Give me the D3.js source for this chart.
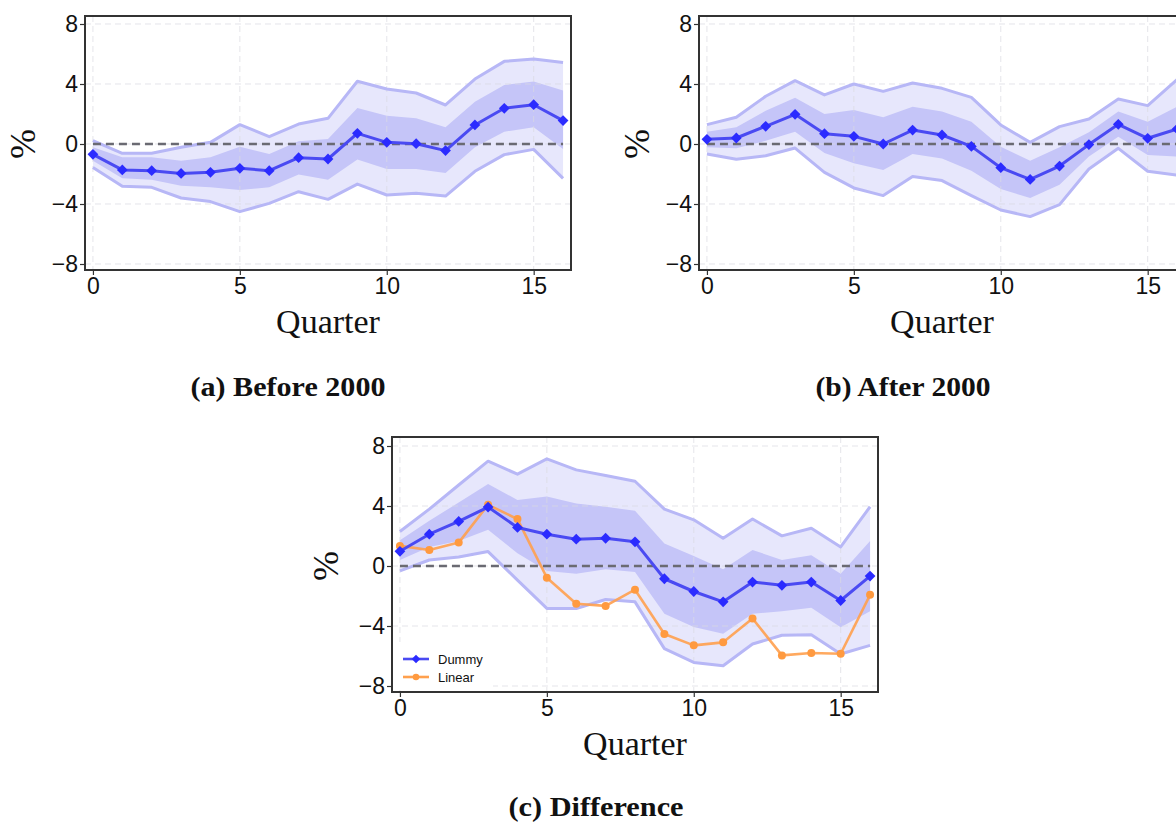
<!DOCTYPE html>
<html>
<head>
<meta charset="utf-8">
<script src="https://cdn.jsdelivr.net/npm/d3@7"></script>
<style>
  html, body { margin: 0; padding: 0; background: #fff; }
  svg { display: block; overflow: hidden; }
</style>
</head>
<body>
<svg id="chart" width="1176" height="824"></svg>
<script>
// Horizon (quarters after the shock)
const quarters = [0, 1, 2, 3, 4, 5, 6, 7, 8, 9, 10, 11, 12, 13, 14, 15, 16];
const xTicks = [0, 5, 10, 15];
const yTicks = [-8, -4, 0, 4, 8];

// (a) Before 2000: point estimate, inner (68%) and outer (90%) bands
const beforeEst   = [-0.69, -1.73, -1.78, -1.96, -1.89, -1.62, -1.78, -0.91, -1.00, 0.71, 0.11, 0.02, -0.44, 1.27, 2.38, 2.62, 1.56];
const beforeInLo  = [-1.11, -2.29, -2.38, -2.78, -2.89, -3.07, -2.89, -2.04, -2.38, -1.04, -1.67, -1.67, -1.93, -0.22, 0.82, 1.11, -0.33];
const beforeInHi  = [-0.22, -0.89, -0.89, -1.11, -0.89, -0.18, -0.67, 0.18, 0.33, 2.40, 1.89, 1.71, 1.11, 2.82, 3.93, 4.16, 3.56];
const beforeOutLo = [-1.56, -2.82, -2.89, -3.60, -3.84, -4.51, -3.96, -3.18, -3.69, -2.67, -3.40, -3.29, -3.47, -1.82, -0.71, -0.36, -2.29];
const beforeOutHi = [0.22, -0.62, -0.62, -0.22, 0.11, 1.29, 0.49, 1.33, 1.71, 4.18, 3.67, 3.40, 2.60, 4.33, 5.51, 5.67, 5.44];

// (b) After 2000
const afterEst   = [0.31, 0.40, 1.18, 1.98, 0.69, 0.51, 0.00, 0.93, 0.60, -0.16, -1.58, -2.36, -1.47, -0.04, 1.31, 0.38, 1.00];
const afterInLo  = [-0.22, -0.29, 0.22, 0.82, -0.60, -1.29, -1.73, -0.67, -0.96, -1.78, -3.00, -3.60, -2.71, -0.84, 0.49, -0.73, -0.84];
const afterInHi  = [0.82, 1.11, 2.22, 3.09, 2.00, 2.27, 1.78, 2.49, 2.16, 1.49, -0.18, -1.11, -0.22, 0.78, 2.16, 1.49, 2.49];
const afterOutLo = [-0.67, -1.02, -0.78, -0.27, -1.89, -2.93, -3.44, -2.16, -2.44, -3.44, -4.40, -4.84, -4.04, -1.67, -0.29, -1.82, -2.07];
const afterOutHi = [1.29, 1.78, 3.18, 4.22, 3.27, 4.00, 3.51, 4.07, 3.71, 3.11, 1.27, 0.11, 1.16, 1.67, 3.00, 2.56, 4.30];

// (c) Difference: dummy specification with bands, and linear specification
const diffEst   = [0.98, 2.12, 2.97, 3.93, 2.57, 2.12, 1.79, 1.85, 1.61, -0.85, -1.70, -2.39, -1.07, -1.29, -1.07, -2.30, -0.67];
const diffInLo  = [0.40, 1.27, 1.67, 2.41, 0.85, -0.33, -0.51, -0.22, -0.40, -3.19, -4.06, -4.51, -3.19, -3.01, -2.79, -4.08, -3.01];
const diffInHi  = [1.72, 3.01, 4.24, 5.47, 4.40, 4.64, 4.17, 3.95, 3.68, 1.50, 0.67, -0.22, 1.07, 0.40, 0.71, -0.51, 1.67];
const diffOutLo = [-0.33, 0.40, 0.60, 0.96, -0.94, -2.83, -2.83, -2.23, -2.39, -5.51, -6.43, -6.65, -5.20, -4.62, -4.58, -5.87, -5.29];
const diffOutHi = [2.30, 3.79, 5.40, 6.99, 6.12, 7.14, 6.41, 6.03, 5.65, 3.79, 3.08, 1.85, 3.13, 2.01, 2.52, 1.27, 3.95];
const linearEst = [1.34, 1.07, 1.56, 4.08, 3.13, -0.78, -2.52, -2.66, -1.58, -4.53, -5.29, -5.09, -3.50, -5.96, -5.80, -5.85, -1.92];

const seriesNames = ["Dummy", "Linear"];
const captions = ["(a) Before 2000", "(b) After 2000", "(c) Difference"];

const C = {
  outerFill: "#e7e7fc",
  innerFill: "#c5c5f8",
  outerEdge: "#b7b7f6",
  line: "#4a4af2",
  marker: "#2b2bff",
  zero: "#6a6a72",
  grid: "rgba(218,218,225,0.7)",
  frame: "#333",
  orange: "#ffa04e",
  orangeMarker: "#ff9a40"
};

const svg = d3.select("#chart");
const sans = "'Liberation Sans', Arial, Helvetica, sans-serif";
const serif = "'Liberation Serif', 'Times New Roman', serif";

// square diamond marker (a square turned by 45 degrees)
const diamondPath = size => d3.symbol(d3.symbolSquare, size)();

function drawPanel(p) {
  const g = svg.append("g").attr("transform", `translate(${p.left},${p.top})`);
  const W = p.width, H = p.height;
  const x = d3.scaleLinear().domain([-0.27, 16.27]).range([0, W]);
  const y = d3.scaleLinear().domain(p.yDomain).range([H, 0]);

  const rows = quarters.map((q, i) => ({
    q, est: p.est[i], inLo: p.inLo[i], inHi: p.inHi[i], outLo: p.outLo[i], outHi: p.outHi[i],
    lin: p.linear ? p.linear[i] : null
  }));

  const clipId = "clip-" + p.id;
  g.append("clipPath").attr("id", clipId)
    .append("rect").attr("width", W).attr("height", H);
  const plot = g.append("g").attr("clip-path", `url(#${clipId})`);

  // bands
  const area = (lo, hi) => d3.area().x(d => x(d.q)).y0(d => y(d[lo])).y1(d => y(d[hi]));
  plot.append("path").datum(rows).attr("d", area("outLo", "outHi")).attr("fill", C.outerFill);
  plot.append("path").datum(rows).attr("d", area("inLo", "inHi")).attr("fill", C.innerFill);

  // dashed grid on top of the bands
  plot.append("g").selectAll("line").data(xTicks).join("line")
    .attr("x1", d => x(d)).attr("x2", d => x(d)).attr("y1", 0).attr("y2", H)
    .attr("stroke", C.grid).attr("stroke-width", 1).attr("stroke-dasharray", "6,4");
  plot.append("g").selectAll("line").data(yTicks).join("line")
    .attr("y1", d => y(d)).attr("y2", d => y(d)).attr("x1", 0).attr("x2", W)
    .attr("stroke", C.grid).attr("stroke-width", 1).attr("stroke-dasharray", "6,4");

  // outer band edges
  ["outLo", "outHi"].forEach(k => {
    plot.append("path").datum(rows)
      .attr("d", d3.line().x(d => x(d.q)).y(d => y(d[k])))
      .attr("fill", "none").attr("stroke", C.outerEdge).attr("stroke-width", 3)
      .attr("stroke-linejoin", "round");
  });

  // zero line
  plot.append("line").attr("x1", x(0)).attr("x2", x(16)).attr("y1", y(0)).attr("y2", y(0))
    .attr("stroke", C.zero).attr("stroke-width", 2.6).attr("stroke-dasharray", "8,5");

  // linear specification
  if (p.linear) {
    plot.append("path").datum(rows)
      .attr("d", d3.line().x(d => x(d.q)).y(d => y(d.lin)))
      .attr("fill", "none").attr("stroke", C.orange).attr("stroke-width", 2.6)
      .attr("stroke-opacity", 0.9).attr("stroke-linejoin", "round");
    plot.append("g").selectAll("circle").data(rows).join("circle")
      .attr("cx", d => x(d.q)).attr("cy", d => y(d.lin)).attr("r", 4)
      .attr("fill", C.orangeMarker);
  }

  // point estimate
  plot.append("path").datum(rows)
    .attr("d", d3.line().x(d => x(d.q)).y(d => y(d.est)))
    .attr("fill", "none").attr("stroke", C.line).attr("stroke-width", 3)
    .attr("stroke-linejoin", "round");
  plot.append("g").selectAll("path").data(rows).join("path")
    .attr("d", diamondPath(58))
    .attr("transform", d => `translate(${x(d.q)},${y(d.est)}) rotate(45)`)
    .attr("fill", C.marker);

  // legend
  if (p.linear) {
    const lg = g.append("g").attr("transform", `translate(1,${H - 50})`);
    lg.append("rect").attr("width", 100).attr("height", 48).attr("fill", "#fff");
    const items = [
      { name: seriesNames[0], color: C.line, mk: C.marker, d: diamondPath(36), rot: 45 },
      { name: seriesNames[1], color: C.orange, mk: C.orangeMarker, d: d3.symbol(d3.symbolCircle, 34)(), rot: 0 }
    ];
    items.forEach((it, i) => {
      const yy = 17 + i * 18;
      lg.append("line").attr("x1", 10).attr("x2", 36).attr("y1", yy).attr("y2", yy)
        .attr("stroke", it.color).attr("stroke-width", 2.6);
      lg.append("path").attr("d", it.d).attr("transform", `translate(23,${yy}) rotate(${it.rot})`).attr("fill", it.mk);
      lg.append("text").attr("x", 45).attr("y", yy + 4.5).text(it.name)
        .attr("font-family", sans).attr("font-size", 13).attr("fill", "#111");
    });
  }

  // axes
  const ax = g.append("g").attr("transform", `translate(0,${H})`)
    .call(d3.axisBottom(x).tickValues(xTicks).tickSize(5).tickPadding(3).tickFormat(d3.format("d")));
  const ay = g.append("g")
    .call(d3.axisLeft(y).tickValues(yTicks).tickSize(5).tickPadding(2).tickFormat(d3.format("d")));
  [ax, ay].forEach(a => {
    a.select(".domain").remove();
    a.selectAll(".tick line").attr("stroke", C.frame).attr("stroke-width", 1.2);
    a.selectAll("text").attr("font-family", sans).attr("font-size", 23).attr("fill", "#111");
  });

  // frame
  g.append("rect").attr("width", W).attr("height", H)
    .attr("fill", "none").attr("stroke", C.frame).attr("stroke-width", 2);

  // axis titles
  g.append("text").attr("x", W / 2).attr("y", H + 63).attr("text-anchor", "middle")
    .attr("font-family", serif).attr("font-size", 34).attr("fill", "#111").text("Quarter");
  g.append("text").attr("transform", `translate(${p.pctX},${y(0)}) rotate(-90)`)
    .attr("text-anchor", "middle").attr("dy", "0.35em")
    .attr("font-family", serif).attr("font-size", 36).attr("fill", "#111").text("%");

  // caption
  svg.append("text").attr("x", p.capX).attr("y", p.capY).attr("text-anchor", "middle")
    .attr("font-family", serif).attr("font-weight", "bold").attr("font-size", 27).attr("fill", "#111")
    .attr("textLength", p.capLen).attr("lengthAdjust", "spacingAndGlyphs")
    .text(p.caption);
}

drawPanel({ id: "a", left: 85, top: 16, width: 486, height: 254, yDomain: [-8.4, 8.533],
  est: beforeEst, inLo: beforeInLo, inHi: beforeInHi, outLo: beforeOutLo, outHi: beforeOutHi,
  pctX: -63, caption: captions[0], capX: 288, capY: 396, capLen: 195 });

drawPanel({ id: "b", left: 699, top: 16, width: 486, height: 254, yDomain: [-8.4, 8.533],
  est: afterEst, inLo: afterInLo, inHi: afterInHi, outLo: afterOutLo, outHi: afterOutHi,
  pctX: -63, caption: captions[1], capX: 903, capY: 396, capLen: 175 });

drawPanel({ id: "c", left: 392, top: 437, width: 486, height: 255, yDomain: [-8.4, 8.6],
  est: diffEst, inLo: diffInLo, inHi: diffInHi, outLo: diffOutLo, outHi: diffOutHi, linear: linearEst,
  pctX: -67, caption: captions[2], capX: 596, capY: 816, capLen: 175 });
</script>
</body>
</html>
